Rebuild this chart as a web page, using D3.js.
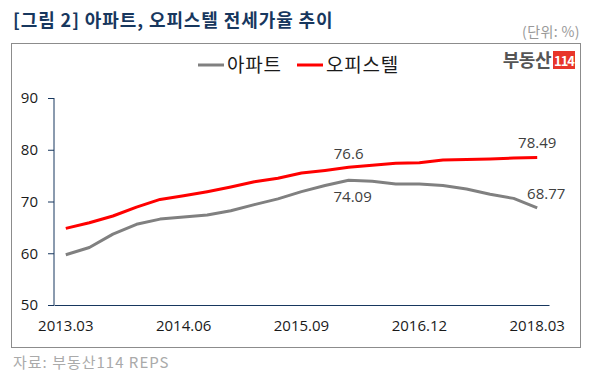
<!DOCTYPE html>
<html>
<head>
<meta charset="utf-8">
<script src="https://cdn.jsdelivr.net/npm/d3@7"></script>
<style>
  body { margin: 0; background: #fff; }
  svg { font-family: "Noto Sans CJK KR", "Noto Sans", sans-serif; }
  .yaxis path, .yaxis line, .xaxis path { stroke: #17375e; }
  .yaxis text, .xaxis text { font-family: "Open Sans", sans-serif; font-size: 15px; fill: #1a1a1a; }
</style>
</head>
<body>
<div id="chart"></div>
<script>
// quarterly periods 2013.03 .. 2018.03
var periods = ["2013.03","2013.06","2013.09","2013.12","2014.03","2014.06","2014.09","2014.12",
    "2015.03","2015.06","2015.09","2015.12","2016.03","2016.06","2016.09","2016.12",
    "2017.03","2017.06","2017.09","2017.12","2018.03"];
var tickLabels = ["2013.03","2014.06","2015.09","2016.12","2018.03"];
var yTicks = [50, 60, 70, 80, 90];

var apt = [59.7, 61.1, 63.7, 65.6, 66.6, 67.0, 67.4, 68.2, 69.4, 70.5, 71.9,
    73.1, 74.09, 73.9, 73.4, 73.4, 73.1, 72.4, 71.4, 70.6, 68.77];
var officetel = [64.8, 65.9, 67.2, 68.9, 70.4, 71.1, 71.9, 72.8, 73.8, 74.5, 75.5,
    76.0, 76.6, 77.0, 77.4, 77.5, 78.0, 78.1, 78.2, 78.4, 78.49];

var W = 593, H = 375;
var margin = { top: 98, right: 44, bottom: 70, left: 54 },
    width = W - margin.left - margin.right,
    height = H - margin.top - margin.bottom;

var svg = d3.select("#chart").append("svg")
    .attr("width", W)
    .attr("height", H);

// title + unit
svg.append("text")
    .attr("x", 13).attr("y", 27)
    .style("font-size", "18px").style("font-weight", "bold")
    .style("letter-spacing", "0.9px")
    .style("fill", "#17375e")
    .text("[그림 2] 아파트, 오피스텔 전세가율 추이");
svg.append("text")
    .attr("x", 580).attr("y", 37)
    .attr("text-anchor", "end")
    .style("font-size", "14px").style("fill", "#999")
    .style("letter-spacing", "0.4px")
    .text("(단위: %)");

// frame
svg.append("rect")
    .attr("x", 11.5).attr("y", 43.5)
    .attr("width", 569).attr("height", 304)
    .style("fill", "none").style("stroke", "#8c8c8c").style("stroke-width", 1);

// footer
svg.append("text")
    .attr("x", 13).attr("y", 368)
    .style("font-size", "15px").style("fill", "#aaa")
    .style("letter-spacing", "1px")
    .text("자료: 부동산114 REPS");

var g = svg.append("g")
    .attr("transform", "translate(" + margin.left + "," + margin.top + ")");

var x = d3.scaleBand().domain(periods).range([0, width]);
var y = d3.scaleLinear().domain([50, 90]).range([height, 0]);
function cx(d) { return x(d) + x.bandwidth() / 2; }

// Y axis
g.append("g")
    .attr("class", "yaxis")
    .call(d3.axisLeft(y).tickValues(yTicks).tickSize(6).tickSizeOuter(0).tickPadding(10))
    .call(function (a) { a.select(".domain").attr("d", "M0," + y(90) + "V" + y(50)); });

// X axis
g.append("g")
    .attr("class", "xaxis")
    .attr("transform", "translate(0," + height + ")")
    .call(d3.axisBottom(x).tickValues(tickLabels).tickSize(0).tickSizeOuter(0).tickPadding(15));

// lines
var line = d3.line()
    .x(function (d, i) { return cx(periods[i]); })
    .y(function (d) { return y(d); });

g.append("path").datum(apt)
    .attr("d", line)
    .style("fill", "none").style("stroke", "#808080").style("stroke-width", 3)
    .style("stroke-linejoin", "round");
g.append("path").datum(officetel)
    .attr("d", line)
    .style("fill", "none").style("stroke", "#ff0000").style("stroke-width", 3)
    .style("stroke-linejoin", "round");

// data labels
var labels = [
    { i: 12, v: officetel[12], dx: 0, dy: -8 },
    { i: 20, v: officetel[20], dx: 0, dy: -10 },
    { i: 12, v: apt[12], dx: 4, dy: 22 },
    { i: 20, v: apt[20], dx: 9, dy: -9 }
];
g.selectAll(".dlabel").data(labels).enter().append("text")
    .attr("class", "dlabel")
    .attr("x", function (d) { return cx(periods[d.i]) + d.dx; })
    .attr("y", function (d) { return y(d.v) + d.dy; })
    .attr("text-anchor", "middle")
    .style("font-family", "'Open Sans', sans-serif")
    .style("font-size", "15px").style("fill", "#404040")
    .text(function (d) { return d.v; });

// legend
var legend = [{ name: "아파트", color: "#808080", x: 198 }, { name: "오피스텔", color: "#ff0000", x: 297 }];
var lg = svg.selectAll(".legend").data(legend).enter().append("g").attr("class", "legend");
lg.append("line")
    .attr("x1", function (d) { return d.x; }).attr("x2", function (d) { return d.x + 26; })
    .attr("y1", 65).attr("y2", 65)
    .style("stroke", function (d) { return d.color; }).style("stroke-width", 3);
lg.append("text")
    .attr("x", function (d) { return d.x + 29; }).attr("y", 72)
    .style("font-size", "19px").style("fill", "#1a1a1a")
    .style("letter-spacing", "0.8px")
    .text(function (d) { return d.name; });

// logo
svg.append("text")
    .attr("x", 551).attr("y", 67)
    .attr("text-anchor", "end")
    .style("font-size", "18px").style("font-weight", "bold").style("fill", "#555")
    .style("letter-spacing", "-0.5px")
    .text("부동산");
svg.append("rect")
    .attr("x", 553).attr("y", 51).attr("width", 22).attr("height", 18)
    .style("fill", "#e8352a");
svg.append("text")
    .attr("x", 564).attr("y", 65.5)
    .attr("text-anchor", "middle")
    .style("font-size", "13px").style("font-weight", "bold").style("fill", "#fff")
    .style("letter-spacing", "-1px")
    .text("114");
</script>
</body>
</html>
